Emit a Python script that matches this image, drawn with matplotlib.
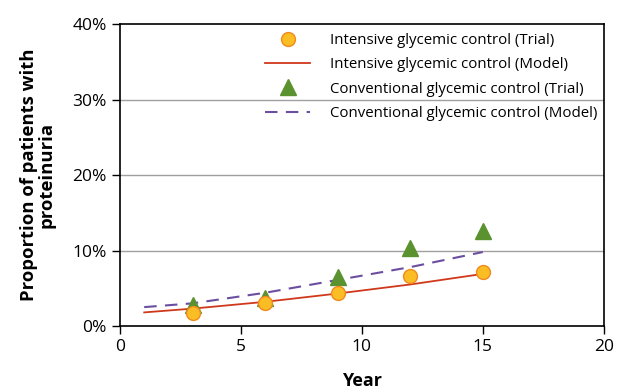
import numpy as np
import matplotlib
matplotlib.use("Agg")
import matplotlib.pyplot as plt
from matplotlib.ticker import PercentFormatter

# trial observations (years, % with proteinuria)
trial_years = [3, 6, 9, 12, 15]
intensive_trial = [1.7, 3.0, 4.4, 6.6, 7.2]
conventional_trial = [2.8, 3.7, 6.5, 10.3, 12.6]

# model predictions
model_years = [1, 3, 6, 9, 12, 15]
intensive_model = [1.8, 2.3, 3.2, 4.3, 5.5, 6.9]
conventional_model = [2.5, 3.0, 4.4, 6.1, 7.8, 9.8]

plt.rcParams['font.family'] = ['Open Sans', 'DejaVu Sans']

fig = plt.figure(figsize=(6.25, 3.89), dpi=100)
ax = fig.add_axes([0.192, 0.162, 0.774, 0.776])

for y in [10, 20, 30]:
    ax.axhline(y, color="#a0a0a0", lw=1, zorder=0)

ax.plot(trial_years, intensive_trial, "o", ms=10, mfc="#fbbd24",
        mec="#f08a1c", mew=1, label="Intensive glycemic control (Trial)",
        zorder=4)
ax.plot(model_years, intensive_model, "-", color="#d0381c", lw=1.3,
        label="Intensive glycemic control (Model)", zorder=2)
ax.plot(trial_years, conventional_trial, "^", ms=11, color="#5a9230",
        mec="#5a9230", label="Conventional glycemic control (Trial)",
        zorder=3)
ax.plot(model_years, conventional_model, "--", color="#6b4ea0", lw=1.5,
        dashes=(6, 4), label="Conventional glycemic control (Model)",
        zorder=2)

ax.set_xlim(0, 20)
ax.set_ylim(0, 40)
ax.set_xticks([0, 5, 10, 15, 20])
ax.set_yticks([0, 10, 20, 30, 40])
ax.yaxis.set_major_formatter(PercentFormatter(decimals=0))
ax.tick_params(direction="out", length=6, width=1, labelsize=12.5,
               colors="black")
for s in ax.spines.values():
    s.set_linewidth(1.2)

ax.set_xlabel("Year", fontsize=13, fontweight="bold", labelpad=12)
ax.set_ylabel("Proportion of patients with\nproteinuria", fontsize=13.3,
              fontweight="bold", labelpad=12, linespacing=1.0)

ax.legend(loc="upper right", bbox_to_anchor=(1.005, 1.0), frameon=False,
          fontsize=10.8, handlelength=3.0, labelspacing=0.62,
          handletextpad=1.3, borderaxespad=0.2)

fig.savefig("out.png", dpi=100)
